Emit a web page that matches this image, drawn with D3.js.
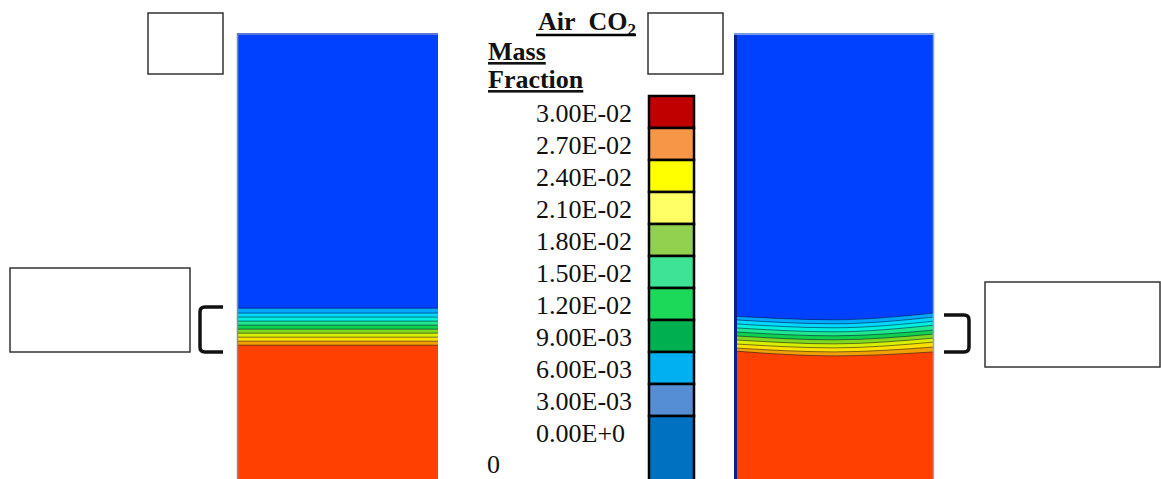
<!DOCTYPE html>
<html lang="en">
<head>
<meta charset="UTF-8">
<title>Air CO2 Mass Fraction</title>
<script src="https://d3js.org/d3.v7.min.js"></script>
<style>
    body, html { margin: 0; background: #fff; }
    svg { display: block; }
    text { font-family: "Liberation Serif", "Times New Roman", serif; fill: #111; }
</style>
</head>
<body>
<div id="chart"></div>
<script>
// Legend levels and colours (top to bottom)
const legendLevels = ["3.00E-02", "2.70E-02", "2.40E-02", "2.10E-02", "1.80E-02", "1.50E-02",
                      "1.20E-02", "9.00E-03", "6.00E-03", "3.00E-03", "0.00E+0"];
const legendColors = ["#c00000", "#f79646", "#ffff00", "#ffff66", "#92d050", "#3ee396",
                      "#1cd95a", "#00b050", "#00b0f0", "#558ed5", "#0070c0"];

// Field contour colours, from top (low CO2) to bottom (high CO2)
const fieldColors = ["#0040ff", "#00a8ff", "#00d8ff", "#00f0e0", "#20e890", "#10d050",
                     "#80d820", "#d8f000", "#ffe000", "#f0a000", "#ff4000"];

// Contour boundary depths (% of visible column height), left panel (flat)
const leftDepths = [61.7, 62.8, 63.7, 64.6, 65.5, 66.4, 67.3, 68.2, 69.1, 70.0];

// Right panel (curved): depth at left edge, middle and right edge
const rightDepthsEdgeL = [63.5, 64.3, 65.2, 66.1, 67.0, 67.9, 68.8, 69.7, 70.6, 71.3];
const rightDepthsMid   = [64.3, 65.2, 66.1, 67.0, 67.9, 68.8, 69.7, 70.6, 71.5, 72.4];
const rightDepthsEdgeR = [62.8, 63.7, 64.6, 65.5, 66.6, 67.5, 68.4, 69.3, 70.4, 71.5];

const width = 1161, height = 479;
const svg = d3.select("#chart").append("svg")
    .attr("width", width).attr("height", height);

const panelTop = 33, panelBottom = 479;
const y = d3.scaleLinear().domain([0, 100]).range([panelTop, panelBottom]);

function drawPanel(x0, x1, boundaries, id) {
    const x = d3.scaleLinear().domain([0, 1]).range([x0, x1]);
    const g = svg.append("g");
    g.append("clipPath").attr("id", id).append("rect")
        .attr("x", x0).attr("y", panelTop).attr("width", x1 - x0).attr("height", panelBottom - panelTop);
    const inner = g.append("g").attr("clip-path", `url(#${id})`);

    inner.append("rect")
        .attr("x", x0).attr("y", panelTop).attr("width", x1 - x0).attr("height", panelBottom - panelTop)
        .attr("fill", fieldColors[fieldColors.length - 1]);

    const area = d3.area()
        .x(d => x(d[0]))
        .y0(y(0))
        .y1(d => y(d[1]))
        .curve(d3.curveMonotoneX);
    const line = d3.line()
        .x(d => x(d[0]))
        .y(d => y(d[1]))
        .curve(d3.curveMonotoneX);

    for (let i = boundaries.length - 1; i >= 0; i--) {
        inner.append("path")
            .datum(boundaries[i])
            .attr("d", area)
            .attr("fill", fieldColors[i]);
        inner.append("path")
            .datum(boundaries[i])
            .attr("d", line)
            .attr("fill", "none")
            .attr("stroke", "rgba(0,0,40,0.5)")
            .attr("stroke-width", 1);
    }
    return { g, x };
}

// Left panel: flat boundaries
const leftB = leftDepths.map(d => [[0, d], [1, d]]);
const left = drawPanel(237, 438, leftB, "clipL");
left.g.append("line").attr("x1", 237.5).attr("x2", 237.5).attr("y1", panelTop).attr("y2", panelBottom)
    .attr("stroke", "#8a8f9a").attr("stroke-width", 1.5);
left.g.append("line").attr("x1", 237).attr("x2", 438).attr("y1", panelTop + 1).attr("y2", panelTop + 1)
    .attr("stroke", "#5b78d8").attr("stroke-width", 2);

// Right panel: curved boundaries
const rightB = rightDepthsMid.map((m, i) => [[0, rightDepthsEdgeL[i]], [0.5, m], [1, rightDepthsEdgeR[i]]]);
const right = drawPanel(734, 934, rightB, "clipR");
right.g.append("line").attr("x1", 735.5).attr("x2", 735.5).attr("y1", panelTop).attr("y2", panelBottom)
    .attr("stroke", "#0a1f8c").attr("stroke-width", 3);
right.g.append("line").attr("x1", 734).attr("x2", 934).attr("y1", panelTop + 1).attr("y2", panelTop + 1)
    .attr("stroke", "#7a98e0").attr("stroke-width", 2);
right.g.append("line").attr("x1", 933.5).attr("x2", 933.5).attr("y1", panelTop).attr("y2", panelBottom)
    .attr("stroke", "#8aa4e6").attr("stroke-width", 1.5);

// Legend
const legY = d3.scaleBand().domain(legendLevels).range([96, 96 + 32 * legendLevels.length]);
const leg = svg.append("g");
leg.selectAll("rect")
    .data(legendLevels)
    .join("rect")
    .attr("x", 649)
    .attr("y", d => legY(d))
    .attr("width", 45)
    .attr("height", (d, i) => i === legendLevels.length - 1 ? 70 : legY.bandwidth())
    .attr("fill", (d, i) => legendColors[i])
    .attr("stroke", "#000")
    .attr("stroke-width", 2.5);
leg.selectAll("text.lbl")
    .data(legendLevels)
    .join("text")
    .attr("class", "lbl")
    .attr("x", 536)
    .attr("y", d => legY(d) + 26)
    .attr("font-size", 26)
    .text(d => d);
leg.append("text").attr("x", 487).attr("y", 473).attr("font-size", 26).text("0");

// Title
const title = svg.append("g").attr("font-weight", "bold").attr("font-size", 26);
const t1 = title.append("text").attr("x", 636).attr("y", 30).attr("text-anchor", "end");
t1.append("tspan").text("Air\u00a0\u00a0CO");
t1.append("tspan").attr("font-size", 17).attr("dy", 5).text("2");
title.append("line").attr("x1", 536).attr("x2", 636).attr("y1", 35).attr("y2", 35)
    .attr("stroke", "#000").attr("stroke-width", 2.5);
title.append("text").attr("x", 488).attr("y", 60).attr("text-decoration", "underline").text("Mass");
title.append("text").attr("x", 488).attr("y", 88).attr("text-decoration", "underline").text("Fraction");

// Empty annotation boxes
const boxes = [[148, 13, 75, 61], [648, 13, 75, 61], [10, 268, 180, 84], [985, 282, 175, 85]];
svg.append("g").selectAll("rect")
    .data(boxes)
    .join("rect")
    .attr("x", d => d[0]).attr("y", d => d[1])
    .attr("width", d => d[2]).attr("height", d => d[3])
    .attr("fill", "#fff").attr("stroke", "#333").attr("stroke-width", 1.5);

// Brackets marking the mixing zone
svg.append("path")
    .attr("d", "M223,307 L205,307 Q200,307 200,312 L200,347 Q200,352 205,352 L223,352")
    .attr("fill", "none").attr("stroke", "#111").attr("stroke-width", 3.5);
svg.append("path")
    .attr("d", "M944,315 L964,315 Q969,315 969,320 L969,347 Q969,352 964,352 L944,352")
    .attr("fill", "none").attr("stroke", "#111").attr("stroke-width", 3.5);
</script>
</body>
</html>
